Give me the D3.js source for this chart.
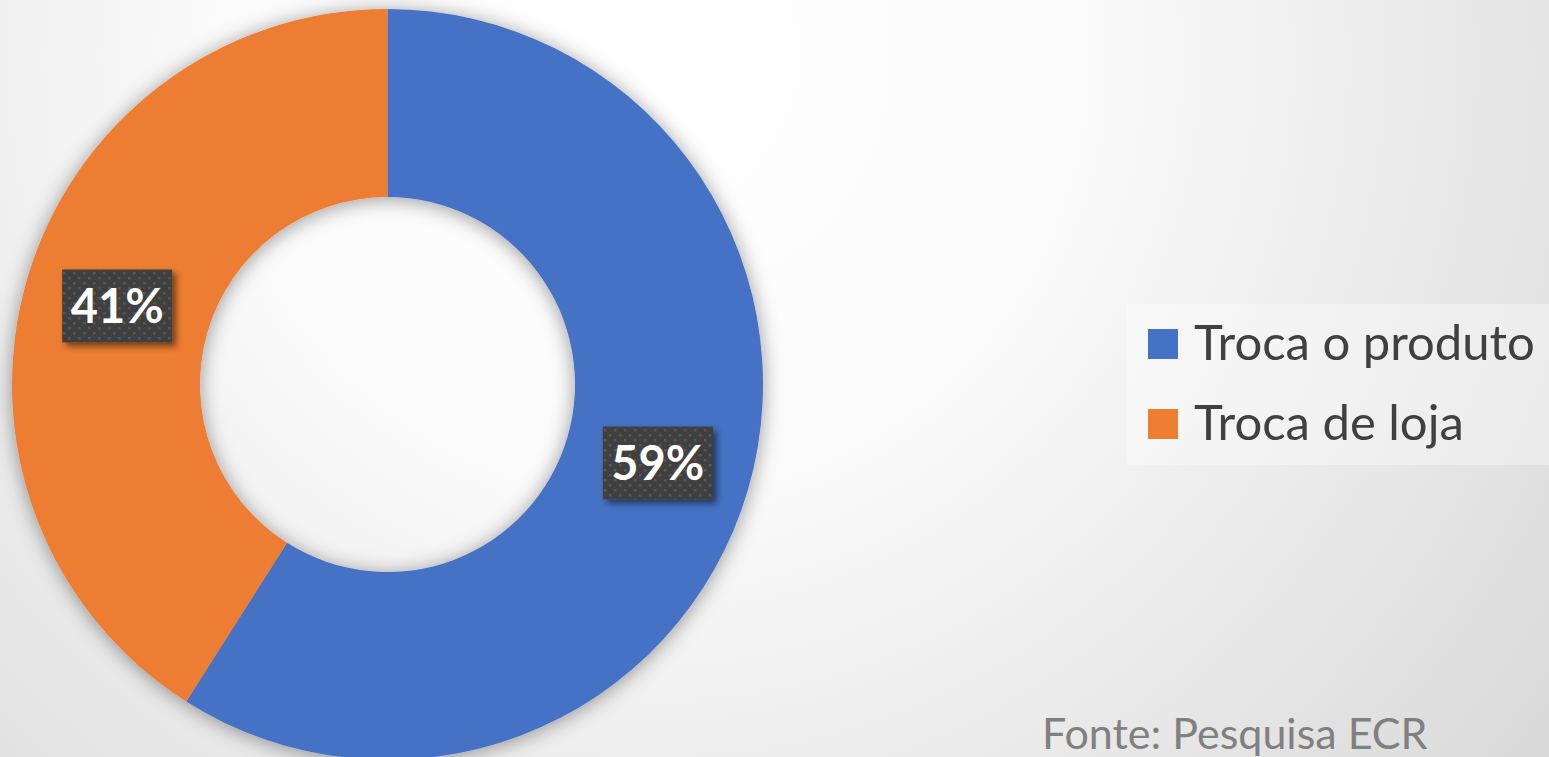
<!DOCTYPE html>
<html>
<head>
<meta charset="utf-8">
<script src="https://cdn.jsdelivr.net/npm/d3@7"></script>
<style>
  body { margin: 0; overflow: hidden; }
</style>
</head>
<body>
<div class="container"></div>
<script>
// chart data
const categories = ["Troca o produto", "Troca de loja"];
const values = [59, 41];
const labels = ["59%", "41%"];
const colors = ["#4472c4", "#ed7d31"];
const sourceNote = "Fonte: Pesquisa ECR";

const width = 1549;
const height = 757;
const font = "Lato, 'Open Sans', sans-serif";

const svg = d3.select(".container")
  .append("svg")
  .attr("width", width)
  .attr("height", height);

const defs = svg.append("defs");

// background gradient
const bg = defs.append("radialGradient")
  .attr("id", "bg")
  .attr("gradientUnits", "userSpaceOnUse")
  .attr("cx", 650).attr("cy", 60).attr("r", 1200);
bg.append("stop").attr("offset", 0).attr("stop-color", "#ffffff");
bg.append("stop").attr("offset", 0.35).attr("stop-color", "#fbfbfb");
bg.append("stop").attr("offset", 1).attr("stop-color", "#d6d6d6");

svg.append("rect")
  .attr("width", width)
  .attr("height", height)
  .attr("fill", "url(#bg)");

// soft shadow for the donut
const ringShadow = defs.append("filter")
  .attr("id", "ringShadow")
  .attr("x", "-20%").attr("y", "-20%")
  .attr("width", "140%").attr("height", "140%");
ringShadow.append("feDropShadow")
  .attr("dx", 0).attr("dy", 2)
  .attr("stdDeviation", 10)
  .attr("flood-color", "#000")
  .attr("flood-opacity", 0.4);

// shadow for the label boxes
const boxShadow = defs.append("filter")
  .attr("id", "boxShadow")
  .attr("x", "-20%").attr("y", "-20%")
  .attr("width", "150%").attr("height", "150%");
boxShadow.append("feDropShadow")
  .attr("dx", 4).attr("dy", 4)
  .attr("stdDeviation", 3)
  .attr("flood-color", "#000")
  .attr("flood-opacity", 0.5);

// dotted pattern in the label boxes
const dots = defs.append("pattern")
  .attr("id", "dots")
  .attr("patternUnits", "userSpaceOnUse")
  .attr("width", 10).attr("height", 10);
dots.append("rect").attr("width", 10).attr("height", 10).attr("fill", "#3f3f3f");
dots.append("rect").attr("x", 1).attr("y", 1).attr("width", 2.5).attr("height", 2.5).attr("fill", "#595959");
dots.append("rect").attr("x", 6).attr("y", 6).attr("width", 2.5).attr("height", 2.5).attr("fill", "#595959");

// donut
const cx = 387.5, cy = 384.5;
const outerR = 375.5, innerR = 187.5;

const pie = d3.pie().sort(null).value(d => d);
const arc = d3.arc().innerRadius(innerR).outerRadius(outerR);
const arcs = pie(values);

const g = svg.append("g")
  .attr("transform", `translate(${cx}, ${cy})`);

g.append("g")
  .attr("filter", "url(#ringShadow)")
  .selectAll("path")
  .data(arcs)
  .join("path")
  .attr("d", arc)
  .attr("fill", (d, i) => colors[i]);

// data labels
const boxW = 110, boxH = 73;
const lbl = g.selectAll(".lbl")
  .data(arcs)
  .join("g")
  .attr("class", "lbl")
  .attr("transform", d => `translate(${arc.centroid(d)})`);

lbl.append("rect")
  .attr("x", -boxW / 2).attr("y", -boxH / 2)
  .attr("width", boxW).attr("height", boxH)
  .attr("fill", "url(#dots)")
  .attr("filter", "url(#boxShadow)");

lbl.append("text")
  .attr("text-anchor", "middle")
  .attr("dy", "0.36em")
  .attr("fill", "#ffffff")
  .attr("font-family", font)
  .attr("font-weight", "bold")
  .attr("font-size", "47px")
  .text((d, i) => labels[i]);

// legend
const legend = svg.append("g");
legend.append("rect")
  .attr("x", 1127).attr("y", 304)
  .attr("width", width - 1127).attr("height", 161)
  .attr("fill", "#ffffff")
  .attr("fill-opacity", 0.35);

const legendY = d3.scalePoint()
  .domain(categories)
  .range([344, 424]);

const item = legend.selectAll(".item")
  .data(categories)
  .join("g")
  .attr("class", "item")
  .attr("transform", d => `translate(1148, ${legendY(d)})`);

item.append("rect")
  .attr("x", 0).attr("y", -15)
  .attr("width", 30).attr("height", 30)
  .attr("fill", (d, i) => colors[i]);

item.append("text")
  .attr("x", 46)
  .attr("y", 16)
  .attr("fill", "#404040")
  .attr("font-family", font)
  .attr("font-size", "49px")
  .text(d => d);

// source note
svg.append("text")
  .attr("x", 1042)
  .attr("y", 749)
  .attr("fill", "#808080")
  .attr("font-family", font)
  .attr("font-size", "43px")
  .text(sourceNote);
</script>
</body>
</html>
